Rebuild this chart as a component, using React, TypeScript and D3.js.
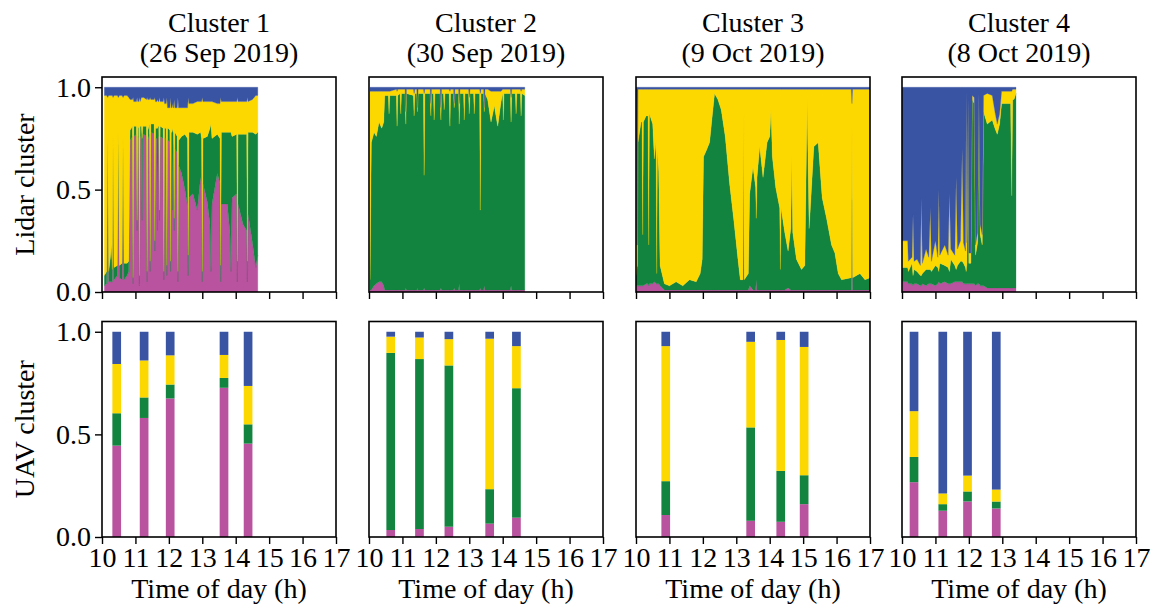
import React, { useEffect, useRef } from "react";
import * as d3 from "d3";

// figure size
const W = 1157;
const H = 611;

const KEYS = ["pink", "green", "yellow", "blue"];
const COLORS: Record<string, string> = {
  pink: "#b9539f",
  green: "#13843f",
  yellow: "#fcd700",
  blue: "#3a54a4",
};

const CLUSTER_TITLES = ["Cluster 1", "Cluster 2", "Cluster 3", "Cluster 4"];
const CLUSTER_DATES = ["(26 Sep 2019)", "(30 Sep 2019)", "(9 Oct 2019)", "(8 Oct 2019)"];
const TIME_TICKS = [10, 11, 12, 13, 14, 15, 16, 17];
const FRACTION_TICKS = [0, 0.5, 1.0];

// ---- Lidar cluster fractions (top row) ----
const c1Time = [10.07, 10.14, 10.17, 10.2, 10.25, 10.28, 10.31, 10.33, 10.36, 10.46, 10.49, 10.52, 10.6, 10.63, 10.66, 10.75, 10.8, 10.84, 10.91, 10.93, 10.95, 11.03, 11.05, 11.07, 11.1, 11.12, 11.14, 11.25, 11.33, 11.35, 11.37, 11.48, 11.56, 11.58, 11.6, 11.7, 11.72, 11.74, 11.83, 11.85, 11.87, 11.98, 12.03, 12.05, 12.07, 12.14, 12.16, 12.18, 12.25, 12.27, 12.29, 12.38, 12.48, 12.56, 12.58, 12.6, 12.72, 12.85, 12.95, 12.98, 13.0, 13.02, 13.15, 13.23, 13.26, 13.29, 13.45, 13.53, 13.55, 13.57, 13.75, 13.83, 13.86, 13.89, 14.03, 14.05, 14.07, 14.22, 14.33, 14.35, 14.37, 14.5, 14.6, 14.66];
const c1Pink = [0.03, 0.04, 0.72, 0.05, 0.05, 0.05, 0.05, 0.7, 0.06, 0.08, 0.72, 0.07, 0.06, 0.7, 0.06, 0.08, 0.1, 0.74, 0.76, 0.04, 0.76, 0.77, 0.3, 0.76, 0.75, 0.03, 0.75, 0.77, 0.76, 0.05, 0.74, 0.78, 0.77, 0.2, 0.75, 0.76, 0.35, 0.76, 0.75, 0.06, 0.75, 0.74, 0.73, 0.1, 0.72, 0.71, 0.3, 0.7, 0.68, 0.05, 0.62, 0.58, 0.5, 0.42, 0.08, 0.46, 0.48, 0.4, 0.56, 0.53, 0.05, 0.53, 0.44, 0.33, 0.1, 0.43, 0.58, 0.53, 0.05, 0.43, 0.43, 0.28, 0.1, 0.46, 0.48, 0.05, 0.43, 0.33, 0.3, 0.05, 0.38, 0.24, 0.12, 0.18];
const c1Green = [0.05, 0.06, 0.05, 0.05, 0.12, 0.18, 0.06, 0.05, 0.06, 0.05, 0.05, 0.06, 0.08, 0.05, 0.08, 0.06, 0.05, 0.05, 0.05, 0.03, 0.05, 0.04, 0.05, 0.05, 0.05, 0.05, 0.06, 0.04, 0.05, 0.05, 0.05, 0.04, 0.05, 0.05, 0.05, 0.05, 0.05, 0.05, 0.05, 0.04, 0.05, 0.06, 0.06, 0.05, 0.06, 0.07, 0.06, 0.08, 0.08, 0.05, 0.12, 0.18, 0.27, 0.33, 0.1, 0.32, 0.3, 0.37, 0.22, 0.22, 0.05, 0.22, 0.32, 0.47, 0.72, 0.32, 0.19, 0.22, 0.08, 0.35, 0.35, 0.5, 0.68, 0.3, 0.29, 0.1, 0.34, 0.44, 0.47, 0.1, 0.4, 0.54, 0.65, 0.6];
const c1Yellow = [0.88, 0.86, 0.18, 0.86, 0.79, 0.73, 0.85, 0.2, 0.84, 0.83, 0.18, 0.83, 0.82, 0.2, 0.82, 0.82, 0.8, 0.15, 0.13, 0.88, 0.12, 0.12, 0.6, 0.12, 0.13, 0.87, 0.12, 0.14, 0.13, 0.85, 0.15, 0.12, 0.12, 0.7, 0.13, 0.12, 0.55, 0.12, 0.13, 0.85, 0.12, 0.1, 0.11, 0.8, 0.12, 0.12, 0.58, 0.12, 0.14, 0.85, 0.16, 0.14, 0.13, 0.15, 0.77, 0.14, 0.14, 0.16, 0.15, 0.18, 0.85, 0.18, 0.17, 0.13, 0.11, 0.18, 0.15, 0.17, 0.82, 0.15, 0.15, 0.15, 0.15, 0.17, 0.16, 0.8, 0.16, 0.16, 0.16, 0.8, 0.15, 0.16, 0.19, 0.18];
const c1Blue = [0.04, 0.04, 0.05, 0.04, 0.04, 0.04, 0.04, 0.05, 0.04, 0.04, 0.05, 0.04, 0.04, 0.05, 0.04, 0.04, 0.05, 0.06, 0.06, 0.05, 0.07, 0.07, 0.05, 0.07, 0.07, 0.05, 0.07, 0.05, 0.06, 0.05, 0.06, 0.06, 0.06, 0.05, 0.07, 0.07, 0.05, 0.07, 0.07, 0.05, 0.08, 0.1, 0.1, 0.05, 0.1, 0.1, 0.06, 0.1, 0.1, 0.05, 0.1, 0.1, 0.1, 0.1, 0.05, 0.08, 0.08, 0.07, 0.07, 0.07, 0.05, 0.07, 0.07, 0.07, 0.07, 0.07, 0.08, 0.08, 0.05, 0.07, 0.07, 0.07, 0.07, 0.07, 0.07, 0.05, 0.07, 0.07, 0.07, 0.05, 0.07, 0.06, 0.04, 0.04];
// extra narrow streaks in the pink stretch of cluster 1
const c1xTime = [11.18, 11.2, 11.22, 11.42, 11.44, 11.46, 11.64, 11.66, 11.68, 11.92, 11.94, 11.96, 12.09, 12.11, 12.125];
const c1xPink = [0.77, 0.35, 0.77, 0.77, 0.1, 0.77, 0.75, 0.3, 0.76, 0.75, 0.08, 0.74, 0.72, 0.4, 0.72];
const c1xGreen = [0.04, 0.4, 0.04, 0.05, 0.05, 0.05, 0.05, 0.5, 0.05, 0.05, 0.05, 0.06, 0.06, 0.4, 0.06];
const c1xYellow = [0.14, 0.2, 0.14, 0.12, 0.8, 0.12, 0.13, 0.14, 0.12, 0.12, 0.82, 0.1, 0.12, 0.12, 0.12];
const c1xBlue = [0.05, 0.05, 0.05, 0.06, 0.05, 0.06, 0.07, 0.06, 0.07, 0.08, 0.05, 0.1, 0.1, 0.08, 0.1];

const c2Time = [10.03, 10.05, 10.07, 10.15, 10.22, 10.3, 10.38, 10.44, 10.47, 10.58, 10.6, 10.62, 10.82, 10.84, 10.86, 11.08, 11.1, 11.12, 11.33, 11.35, 11.37, 11.63, 11.65, 11.67, 11.83, 11.85, 11.87, 12.13, 12.15, 12.17, 12.4, 12.42, 12.44, 12.68, 12.7, 12.72, 12.98, 13.0, 13.02, 13.31, 13.33, 13.35, 13.55, 13.65, 13.75, 13.85, 13.95, 14.1, 14.23, 14.25, 14.27, 14.53, 14.55, 14.57, 14.66];
const c2Pink = [0.01, 0.01, 0.01, 0.03, 0.04, 0.05, 0.05, 0.03, 0.01, 0.01, 0.01, 0.01, 0.01, 0.01, 0.01, 0.01, 0.02, 0.01, 0.01, 0.01, 0.01, 0.01, 0.02, 0.01, 0.01, 0.01, 0.01, 0.01, 0.02, 0.01, 0.01, 0.01, 0.01, 0.01, 0.04, 0.01, 0.01, 0.01, 0.01, 0.01, 0.02, 0.01, 0.01, 0.01, 0.01, 0.01, 0.01, 0.01, 0.01, 0.03, 0.01, 0.01, 0.01, 0.01, 0.01];
const c2Green = [0.05, 0.4, 0.72, 0.75, 0.72, 0.78, 0.75, 0.8, 0.95, 0.95, 0.86, 0.95, 0.95, 0.8, 0.95, 0.96, 0.8, 0.96, 0.95, 0.85, 0.96, 0.96, 0.55, 0.96, 0.96, 0.85, 0.96, 0.96, 0.82, 0.96, 0.96, 0.8, 0.96, 0.96, 0.78, 0.96, 0.96, 0.86, 0.96, 0.96, 0.38, 0.96, 0.93, 0.82, 0.9, 0.8, 0.92, 0.96, 0.96, 0.8, 0.96, 0.96, 0.85, 0.96, 0.95];
const c2Yellow = [0.92, 0.57, 0.25, 0.2, 0.22, 0.15, 0.18, 0.15, 0.02, 0.02, 0.11, 0.02, 0.03, 0.17, 0.03, 0.02, 0.06, 0.02, 0.03, 0.11, 0.02, 0.02, 0.4, 0.02, 0.02, 0.06, 0.02, 0.02, 0.06, 0.02, 0.02, 0.17, 0.02, 0.02, 0.1, 0.02, 0.02, 0.08, 0.02, 0.02, 0.57, 0.02, 0.05, 0.15, 0.07, 0.17, 0.05, 0.02, 0.02, 0.12, 0.02, 0.02, 0.12, 0.02, 0.03];
const c2Blue = [0.02, 0.02, 0.02, 0.02, 0.02, 0.02, 0.02, 0.02, 0.02, 0.02, 0.02, 0.02, 0.01, 0.02, 0.01, 0.01, 0.12, 0.01, 0.01, 0.03, 0.01, 0.01, 0.03, 0.01, 0.01, 0.08, 0.01, 0.01, 0.1, 0.01, 0.01, 0.02, 0.01, 0.01, 0.08, 0.01, 0.01, 0.05, 0.01, 0.01, 0.03, 0.01, 0.01, 0.02, 0.02, 0.02, 0.02, 0.01, 0.01, 0.05, 0.01, 0.01, 0.02, 0.01, 0.01];
// extra narrow streaks in cluster 2
const c2xTime = [10.93, 10.95, 10.97, 11.43, 11.45, 11.47, 11.93, 11.95, 11.97, 12.23, 12.25, 12.27, 12.53, 12.55, 12.57, 12.83, 12.85, 12.87, 13.13, 13.15, 13.17, 13.43, 13.45, 13.47, 14.0, 14.02, 14.04, 14.38, 14.4, 14.42];
const c2xPink = [0.01, 0.01, 0.01, 0.01, 0.02, 0.01, 0.01, 0.01, 0.01, 0.01, 0.01, 0.01, 0.01, 0.02, 0.01, 0.01, 0.01, 0.01, 0.01, 0.01, 0.01, 0.01, 0.03, 0.01, 0.01, 0.01, 0.01, 0.01, 0.01, 0.01];
const c2xGreen = [0.96, 0.86, 0.96, 0.96, 0.86, 0.96, 0.96, 0.83, 0.96, 0.96, 0.88, 0.96, 0.96, 0.88, 0.96, 0.96, 0.83, 0.96, 0.96, 0.86, 0.96, 0.96, 0.85, 0.96, 0.96, 0.83, 0.96, 0.96, 0.86, 0.96];
const c2xYellow = [0.02, 0.12, 0.02, 0.02, 0.02, 0.02, 0.02, 0.15, 0.02, 0.02, 0.1, 0.02, 0.02, 0.02, 0.02, 0.02, 0.15, 0.02, 0.02, 0.12, 0.02, 0.02, 0.02, 0.02, 0.02, 0.15, 0.02, 0.02, 0.12, 0.02];
const c2xBlue = [0.01, 0.01, 0.01, 0.01, 0.1, 0.01, 0.01, 0.01, 0.01, 0.01, 0.01, 0.01, 0.01, 0.08, 0.01, 0.01, 0.01, 0.01, 0.01, 0.01, 0.01, 0.01, 0.1, 0.01, 0.01, 0.01, 0.01, 0.01, 0.01, 0.01];

const c3Time = [10.0, 10.02, 10.04, 10.06, 10.15, 10.18, 10.2, 10.22, 10.3, 10.36, 10.38, 10.4, 10.5, 10.55, 10.6, 10.62, 10.64, 10.68, 10.72, 10.85, 11.0, 11.2, 11.4, 11.6, 11.8, 11.92, 11.98, 12.02, 12.1, 12.2, 12.28, 12.35, 12.45, 12.55, 12.67, 12.8, 12.92, 13.05, 13.12, 13.2, 13.22, 13.24, 13.36, 13.4, 13.5, 13.58, 13.6, 13.62, 13.7, 13.8, 13.92, 14.0, 14.04, 14.08, 14.18, 14.3, 14.32, 14.34, 14.45, 14.55, 14.63, 14.66, 14.69, 14.8, 14.95, 15.05, 15.12, 15.18, 15.25, 15.32, 15.45, 15.57, 15.7, 15.85, 15.95, 16.05, 16.15, 16.44, 16.46, 16.48, 16.7, 16.85, 17.0];
const c3Pink = [0.03, 0.03, 0.03, 0.03, 0.03, 0.03, 0.03, 0.03, 0.04, 0.04, 0.03, 0.04, 0.04, 0.05, 0.04, 0.04, 0.04, 0.04, 0.03, 0.01, 0.01, 0.01, 0.01, 0.01, 0.01, 0.01, 0.01, 0.01, 0.01, 0.01, 0.01, 0.01, 0.01, 0.01, 0.01, 0.01, 0.01, 0.01, 0.01, 0.01, 0.01, 0.01, 0.01, 0.03, 0.01, 0.01, 0.06, 0.01, 0.01, 0.01, 0.01, 0.01, 0.01, 0.01, 0.01, 0.01, 0.01, 0.01, 0.01, 0.02, 0.01, 0.01, 0.01, 0.01, 0.01, 0.01, 0.01, 0.01, 0.01, 0.01, 0.01, 0.01, 0.01, 0.01, 0.01, 0.01, 0.01, 0.01, 0.45, 0.01, 0.01, 0.01, 0.01];
const c3Green = [0.05, 0.08, 0.1, 0.7, 0.8, 0.8, 0.25, 0.8, 0.82, 0.82, 0.2, 0.83, 0.78, 0.6, 0.7, 0.05, 0.65, 0.55, 0.1, 0.03, 0.02, 0.04, 0.02, 0.05, 0.04, 0.08, 0.15, 0.65, 0.68, 0.72, 0.85, 0.96, 0.93, 0.88, 0.75, 0.52, 0.35, 0.15, 0.05, 0.05, 0.85, 0.05, 0.08, 0.45, 0.6, 0.5, 0.3, 0.55, 0.7, 0.55, 0.72, 0.75, 0.88, 0.65, 0.5, 0.4, 0.1, 0.4, 0.28, 0.18, 0.3, 0.65, 0.28, 0.15, 0.1, 0.12, 0.93, 0.3, 0.5, 0.7, 0.72, 0.45, 0.35, 0.22, 0.18, 0.08, 0.05, 0.06, 0.35, 0.06, 0.08, 0.05, 0.06];
const c3Yellow = [0.91, 0.12, 0.1, 0.26, 0.16, 0.16, 0.71, 0.16, 0.13, 0.13, 0.76, 0.12, 0.17, 0.34, 0.25, 0.9, 0.3, 0.4, 0.86, 0.95, 0.96, 0.94, 0.96, 0.93, 0.94, 0.9, 0.83, 0.33, 0.3, 0.26, 0.13, 0.02, 0.05, 0.1, 0.23, 0.46, 0.63, 0.83, 0.93, 0.93, 0.13, 0.93, 0.9, 0.51, 0.38, 0.48, 0.63, 0.43, 0.28, 0.43, 0.26, 0.23, 0.1, 0.33, 0.48, 0.58, 0.88, 0.58, 0.7, 0.79, 0.68, 0.33, 0.7, 0.83, 0.88, 0.86, 0.05, 0.68, 0.48, 0.28, 0.26, 0.53, 0.63, 0.76, 0.8, 0.9, 0.93, 0.92, 0.12, 0.92, 0.9, 0.93, 0.92];
const c3Blue = [0.01, 0.77, 0.77, 0.01, 0.01, 0.01, 0.01, 0.01, 0.01, 0.01, 0.01, 0.01, 0.01, 0.01, 0.01, 0.01, 0.01, 0.01, 0.01, 0.01, 0.01, 0.01, 0.01, 0.01, 0.01, 0.01, 0.01, 0.01, 0.01, 0.01, 0.01, 0.01, 0.01, 0.01, 0.01, 0.01, 0.01, 0.01, 0.01, 0.01, 0.01, 0.01, 0.01, 0.01, 0.01, 0.01, 0.01, 0.01, 0.01, 0.01, 0.01, 0.01, 0.01, 0.01, 0.01, 0.01, 0.01, 0.01, 0.01, 0.01, 0.01, 0.01, 0.01, 0.01, 0.01, 0.01, 0.01, 0.01, 0.01, 0.01, 0.01, 0.01, 0.01, 0.01, 0.01, 0.01, 0.01, 0.01, 0.08, 0.01, 0.01, 0.01, 0.01];

const c4Time = [10.0, 10.17, 10.19, 10.3, 10.33, 10.36, 10.45, 10.55, 10.58, 10.61, 10.72, 10.8, 10.85, 10.88, 11.0, 11.07, 11.1, 11.13, 11.28, 11.38, 11.42, 11.46, 11.58, 11.62, 11.66, 11.75, 11.8, 11.84, 11.9, 11.92, 11.94, 11.98, 12.0, 12.06, 12.1, 12.16, 12.2, 12.26, 12.3, 12.34, 12.4, 12.44, 12.55, 12.7, 12.78, 12.85, 12.92, 12.98, 13.25, 13.28, 13.31, 13.35, 13.41];
const c4Pink = [0.05, 0.05, 0.04, 0.04, 0.03, 0.04, 0.04, 0.03, 0.03, 0.04, 0.03, 0.04, 0.04, 0.04, 0.03, 0.04, 0.05, 0.04, 0.05, 0.04, 0.04, 0.04, 0.05, 0.05, 0.05, 0.05, 0.05, 0.04, 0.04, 0.04, 0.04, 0.04, 0.04, 0.04, 0.04, 0.04, 0.03, 0.04, 0.04, 0.03, 0.03, 0.03, 0.02, 0.02, 0.02, 0.02, 0.02, 0.02, 0.02, 0.02, 0.02, 0.02, 0.02];
const c4Green = [0.07, 0.07, 0.06, 0.1, 0.05, 0.07, 0.06, 0.05, 0.05, 0.05, 0.08, 0.07, 0.07, 0.06, 0.1, 0.08, 0.05, 0.1, 0.08, 0.08, 0.06, 0.12, 0.08, 0.06, 0.08, 0.1, 0.1, 0.1, 0.08, 0.06, 0.1, 0.85, 0.1, 0.1, 0.9, 0.88, 0.15, 0.2, 0.88, 0.25, 0.2, 0.85, 0.8, 0.82, 0.78, 0.75, 0.8, 0.9, 0.9, 0.45, 0.92, 0.92, 0.95];
const c4Yellow = [0.13, 0.13, 0.05, 0.03, 0.3, 0.04, 0.06, 0.05, 0.38, 0.05, 0.1, 0.06, 0.3, 0.05, 0.12, 0.05, 0.4, 0.04, 0.1, 0.06, 0.38, 0.05, 0.05, 0.45, 0.08, 0.1, 0.55, 0.1, 0.08, 0.88, 0.1, 0.05, 0.05, 0.05, 0.02, 0.03, 0.05, 0.05, 0.05, 0.05, 0.05, 0.08, 0.15, 0.12, 0.08, 0.05, 0.05, 0.06, 0.06, 0.51, 0.05, 0.05, 0.02];
const c4Blue = [0.75, 0.75, 0.85, 0.83, 0.62, 0.85, 0.84, 0.87, 0.54, 0.86, 0.79, 0.83, 0.59, 0.85, 0.75, 0.83, 0.5, 0.82, 0.77, 0.82, 0.52, 0.79, 0.82, 0.44, 0.79, 0.75, 0.3, 0.76, 0.8, 0.02, 0.76, 0.06, 0.81, 0.81, 0.04, 0.05, 0.77, 0.71, 0.03, 0.67, 0.72, 0.04, 0.03, 0.04, 0.12, 0.18, 0.13, 0.02, 0.02, 0.02, 0.01, 0.01, 0.01];

// ---- UAV cluster fractions (bottom row) ----
const u1Time = [10.44, 11.26, 12.04, 13.65, 14.37];
const u1Pink = [0.445, 0.58, 0.675, 0.727, 0.455];
const u1Green = [0.158, 0.1, 0.068, 0.048, 0.094];
const u1Yellow = [0.24, 0.18, 0.142, 0.112, 0.187];
const u1Blue = [0.157, 0.14, 0.115, 0.113, 0.264];

const u2Time = [10.65, 11.51, 12.39, 13.61, 14.41];
const u2Pink = [0.034, 0.039, 0.05, 0.065, 0.094];
const u2Green = [0.863, 0.828, 0.786, 0.168, 0.631];
const u2Yellow = [0.079, 0.105, 0.128, 0.733, 0.205];
const u2Blue = [0.024, 0.028, 0.036, 0.034, 0.07];

const u3Time = [10.89, 13.43, 14.33, 15.03];
const u3Pink = [0.107, 0.079, 0.074, 0.16];
const u3Green = [0.165, 0.455, 0.248, 0.141];
const u3Yellow = [0.658, 0.417, 0.638, 0.625];
const u3Blue = [0.07, 0.049, 0.04, 0.074];

const u4Time = [10.36, 11.22, 11.96, 12.82];
const u4Pink = [0.267, 0.128, 0.173, 0.139];
const u4Green = [0.123, 0.032, 0.049, 0.034];
const u4Yellow = [0.223, 0.052, 0.077, 0.058];
const u4Blue = [0.387, 0.788, 0.701, 0.769];

const BAR_WIDTH_H = 0.26;

const lidar = [
  [[c1Time, c1Pink, c1Green, c1Yellow, c1Blue], [c1xTime, c1xPink, c1xGreen, c1xYellow, c1xBlue]],
  [[c2Time, c2Pink, c2Green, c2Yellow, c2Blue], [c2xTime, c2xPink, c2xGreen, c2xYellow, c2xBlue]],
  [[c3Time, c3Pink, c3Green, c3Yellow, c3Blue]],
  [[c4Time, c4Pink, c4Green, c4Yellow, c4Blue]],
];
const uav = [
  [[u1Time, u1Pink, u1Green, u1Yellow, u1Blue]],
  [[u2Time, u2Pink, u2Green, u2Yellow, u2Blue]],
  [[u3Time, u3Pink, u3Green, u3Yellow, u3Blue]],
  [[u4Time, u4Pink, u4Green, u4Yellow, u4Blue]],
];

function toRows(sets: number[][][]) {
  const out: any[] = [];
  sets.forEach(([t, p, g, y, b]) => {
    t.forEach((tt, i) => out.push({ t: tt, pink: p[i], green: g[i], yellow: y[i], blue: b[i] }));
  });
  return out.sort((a, b) => a.t - b.t);
}

export default function App() {
  const svgRef = useRef<SVGSVGElement>(null);

  useEffect(() => {
    const svg = d3.select(svgRef.current);
    svg.selectAll("*").remove();

    const font = "'Liberation Serif', 'Times New Roman', Times, serif";
    const fs = 28;

    const colX = [102, 369, 636, 902];
    const panelW = 234;
    const rows = [
      { top: 77, bottom: 292 },
      { top: 321.5, bottom: 537 },
    ];

    const stack = d3.stack<any>().keys(KEYS);

    colX.forEach((x0, ci) => {
      const x = d3.scaleLinear().domain([10, 17]).range([x0, x0 + panelW]);

      rows.forEach((r, ri) => {
        const y = d3.scaleLinear().domain([0, 1.05]).range([r.bottom, r.top]);
        const g = svg.append("g");
        const clipId = `clip-${ci}-${ri}`;
        g.append("clipPath")
          .attr("id", clipId)
          .append("rect")
          .attr("x", x0)
          .attr("y", r.top)
          .attr("width", panelW)
          .attr("height", r.bottom - r.top);

        const marks = g.append("g").attr("clip-path", `url(#${clipId})`);

        if (ri === 0) {
          const series = stack(toRows(lidar[ci]));
          const area = d3
            .area<any>()
            .x((d) => x(d.data.t))
            .y0((d) => y(d[0]))
            .y1((d) => y(d[1]));
          marks
            .selectAll("path")
            .data(series)
            .join("path")
            .attr("d", area)
            .attr("fill", (s) => COLORS[s.key])
            .attr("stroke", (s) => COLORS[s.key])
            .attr("stroke-width", 0.3);
        } else {
          const series = stack(toRows(uav[ci]));
          series.forEach((s) => {
            marks
              .append("g")
              .selectAll("rect")
              .data(s)
              .join("rect")
              .attr("x", (d: any) => x(d.data.t - BAR_WIDTH_H / 2))
              .attr("width", (d: any) => x(d.data.t + BAR_WIDTH_H / 2) - x(d.data.t - BAR_WIDTH_H / 2))
              .attr("y", (d: any) => y(d[1]))
              .attr("height", (d: any) => y(d[0]) - y(d[1]))
              .attr("fill", COLORS[s.key]);
          });
        }

        // x axis (labels only on the bottom row)
        const xAxis = d3
          .axisBottom(x)
          .tickValues(TIME_TICKS)
          .tickSize(7)
          .tickPadding(3)
          .tickFormat(ri === 1 ? (d3.format("d") as any) : () => "");
        const xa = g.append("g").attr("transform", `translate(0,${r.bottom})`).call(xAxis);
        xa.select(".domain").remove();
        xa.selectAll(".tick line").attr("stroke", "#000").attr("stroke-width", 1.4);
        xa.selectAll("text").style("font-family", font).style("font-size", `${fs}px`).attr("fill", "#000");

        // y axis only on first column
        if (ci === 0) {
          const yAxis = d3
            .axisLeft(y)
            .tickValues(FRACTION_TICKS)
            .tickSize(7)
            .tickPadding(4)
            .tickFormat(d3.format(".1f") as any);
          const ya = g.append("g").attr("transform", `translate(${x0},0)`).call(yAxis);
          ya.select(".domain").remove();
          ya.selectAll(".tick line").attr("stroke", "#000").attr("stroke-width", 1.4);
          ya.selectAll("text").style("font-family", font).style("font-size", `${fs}px`).attr("fill", "#000");
        }

        // frame
        g.append("rect")
          .attr("x", x0)
          .attr("y", r.top)
          .attr("width", panelW)
          .attr("height", r.bottom - r.top)
          .attr("fill", "none")
          .attr("stroke", "#000")
          .attr("stroke-width", 1.6);

        if (ri === 1) {
          g.append("text")
            .attr("x", x0 + panelW / 2)
            .attr("y", 598)
            .attr("text-anchor", "middle")
            .style("font-family", font)
            .style("font-size", `${fs}px`)
            .text("Time of day (h)");
        }
      });

      // titles
      svg
        .append("text")
        .attr("x", x0 + panelW / 2)
        .attr("y", 32)
        .attr("text-anchor", "middle")
        .style("font-family", font)
        .style("font-size", `${fs}px`)
        .text(CLUSTER_TITLES[ci]);
      svg
        .append("text")
        .attr("x", x0 + panelW / 2)
        .attr("y", 62)
        .attr("text-anchor", "middle")
        .style("font-family", font)
        .style("font-size", `${fs}px`)
        .text(CLUSTER_DATES[ci]);
    });

    // row labels
    [
      { label: "Lidar cluster", cy: (77 + 292) / 2 },
      { label: "UAV cluster", cy: (321.5 + 537) / 2 },
    ].forEach((l) => {
      svg
        .append("text")
        .attr("transform", `translate(34,${l.cy}) rotate(-90)`)
        .attr("text-anchor", "middle")
        .style("font-family", font)
        .style("font-size", `${fs}px`)
        .text(l.label);
    });
  }, []);

  return (
    <svg
      ref={svgRef}
      width={W}
      height={H}
      style={{ position: "absolute", left: 0, top: 0, background: "#fff" }}
    />
  );
}
